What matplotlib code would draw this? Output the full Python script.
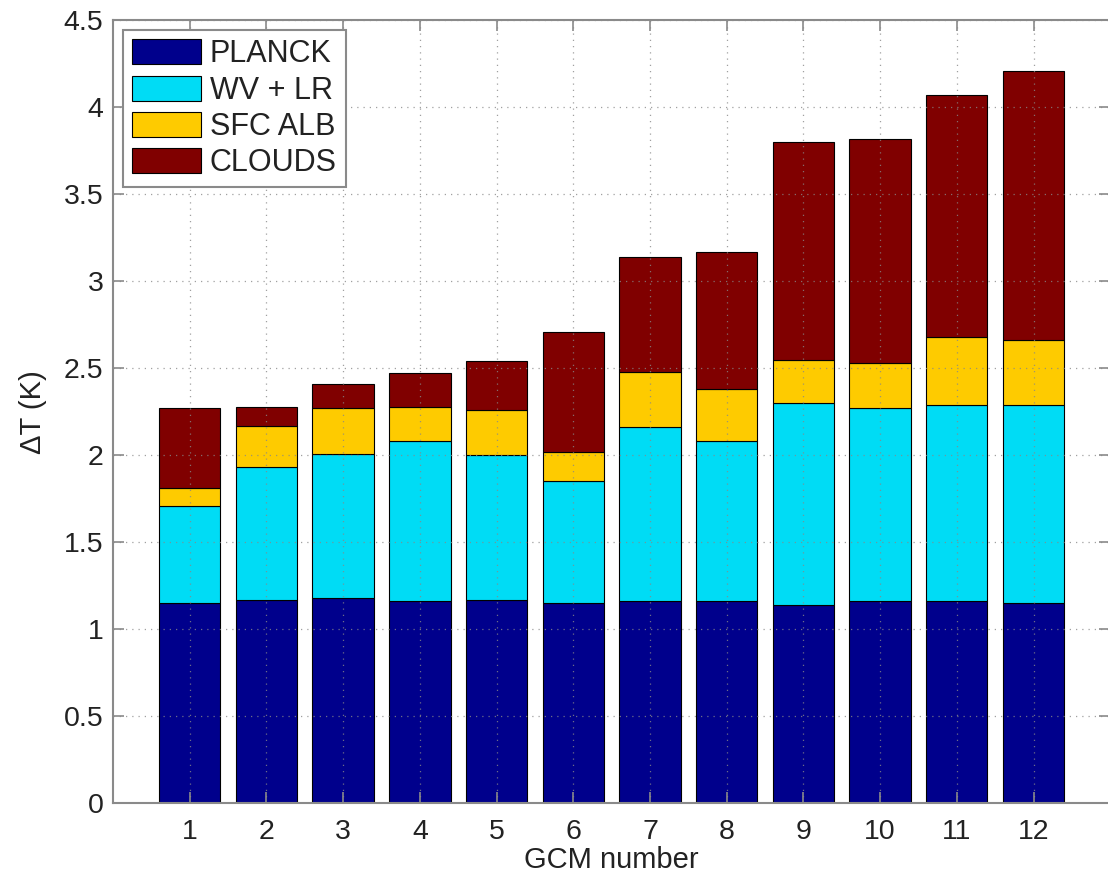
import matplotlib
matplotlib.use("Agg")
import matplotlib.pyplot as plt
import numpy as np

plt.rcParams['font.family'] = ['Liberation Sans', 'DejaVu Sans']

# Feedback contributions to warming for each GCM (K)
gcm = list(range(1, 13))
planck = [1.15, 1.17, 1.18, 1.16, 1.17, 1.15, 1.16, 1.16, 1.14, 1.16, 1.16, 1.15]
wv_lr = [0.56, 0.76, 0.83, 0.92, 0.83, 0.70, 1.00, 0.92, 1.16, 1.11, 1.13, 1.14]
sfc_alb = [0.10, 0.24, 0.26, 0.20, 0.26, 0.17, 0.32, 0.30, 0.25, 0.26, 0.39, 0.37]
clouds = [0.46, 0.11, 0.14, 0.19, 0.28, 0.69, 0.66, 0.79, 1.25, 1.29, 1.39, 1.55]

labels = ['PLANCK', 'WV + LR', 'SFC ALB', 'CLOUDS']
colors = ['#00008c', '#00dcf5', '#fecb00', '#800000']
series = [planck, wv_lr, sfc_alb, clouds]

fig = plt.figure(figsize=(11.08, 8.77), dpi=100)
ax = fig.add_axes([0.102, 0.084, 0.9, 0.893])

bottom = np.zeros(len(gcm))
for vals, lab, col in zip(series, labels, colors):
    ax.bar(gcm, vals, width=0.8, bottom=bottom, color=col, edgecolor='black',
           linewidth=0.8, label=lab, zorder=2)
    bottom += np.array(vals)

ax.set_xlim(0, 13)
ax.set_ylim(0, 4.5)
ax.set_xticks(gcm)
ax.set_yticks(np.arange(0, 4.51, 0.5))
ax.set_yticklabels(['0', '0.5', '1', '1.5', '2', '2.5', '3', '3.5', '4', '4.5'])

ax.grid(True, linestyle=(0, (1, 4)), color='#888888', linewidth=0.9, alpha=0.8)
ax.set_axisbelow(False)

for s in ax.spines.values():
    s.set_color('#8a8a8a')
    s.set_linewidth(1.5)
    s.set_zorder(3)

ax.tick_params(axis='both', direction='in', length=8, width=1.2, color='#8a8a8a',
               labelsize=20.5, labelcolor='#222222', top=True, right=True)
ax.tick_params(axis='x', pad=11)
ax.tick_params(axis='y', pad=7)

ax.set_xlabel('GCM number', fontsize=21, color='#222222', labelpad=1)
ax.set_ylabel('ΔT (K)', fontsize=21, color='#222222', labelpad=12)

leg = ax.legend(loc='upper left', fontsize=22, handlelength=2.25, handleheight=0.88,
                labelspacing=0.2, handletextpad=0.28, borderpad=0.3,
                borderaxespad=0.33, fancybox=False, framealpha=1, edgecolor='#8a8a8a')
leg.get_frame().set_linewidth(1.5)
for t in leg.get_texts():
    t.set_color('#222222')

fig.savefig('out.png', dpi=100)
